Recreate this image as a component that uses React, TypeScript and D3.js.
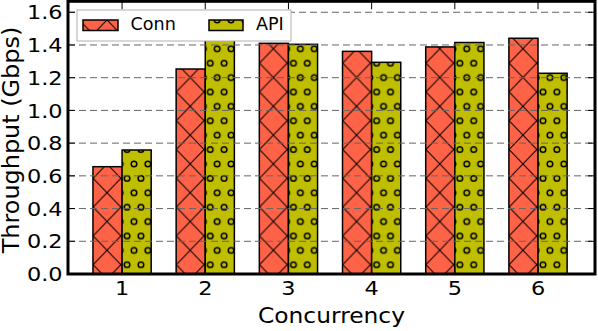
import React from 'react'
import * as d3 from 'd3'

const categories = [1, 2, 3, 4, 5, 6]
const connValues = [0.656, 1.253, 1.41, 1.361, 1.388, 1.441]
const apiValues = [0.758, 1.444, 1.404, 1.294, 1.415, 1.227]
const yTicks = [0, 0.2, 0.4, 0.6, 0.8, 1.0, 1.2, 1.4, 1.6]

const W = 598
const H = 331
const FONT = 'DejaVu Sans, sans-serif'
const CONN_COLOR = '#ff6347'
const API_COLOR = '#bfbf00'

export default function App() {
  const left = 68
  const right = 595
  const top = 1.3
  const bottom = 274

  const x = d3.scaleLinear().domain([0.35, 6.685]).range([left, right])
  const y = d3.scaleLinear().domain([0, 1.667]).range([bottom, top])
  const barW = x(0.35) - x(0)

  // hatch periods (px)
  const hx = 27.73
  const hy = 28.8

  const tickLen = 7
  // the original font renders a bit wider than DejaVu
  const tickStretch = 1.12

  return (
    <svg
      width={W}
      height={H}
      style={{ position: 'absolute', left: 0, top: 0, background: '#fff' }}
      fontFamily={FONT}
    >
      <defs>
        <pattern
          id="hatchX"
          patternUnits="userSpaceOnUse"
          width={hx}
          height={hy}
          patternTransform={`translate(${107 % hx},${192.7 % hy})`}
        >
          <rect width={hx} height={hy} fill={CONN_COLOR} />
          <line x1={0} y1={0} x2={hx} y2={hy} stroke="#000" strokeWidth={1} />
          <line x1={hx} y1={0} x2={0} y2={hy} stroke="#000" strokeWidth={1} />
        </pattern>
        <pattern
          id="hatchO"
          patternUnits="userSpaceOnUse"
          width={hx / 2}
          height={hy}
          patternTransform={`translate(${134 % (hx / 2)},${164 % hy})`}
        >
          <rect width={hx / 2} height={hy} fill={API_COLOR} />
          {[
            [0, 0],
            [hx / 2, 0],
            [0, hy],
            [hx / 2, hy],
            [hx / 4, hy / 2],
          ].map(([cx, cy], i) => (
            <circle key={i} cx={cx} cy={cy} r={2.8} fill="none" stroke="#000" strokeWidth={1.5} />
          ))}
        </pattern>
      </defs>

      {/* bars */}
      {categories.map((c, i) => (
        <g key={c}>
          <rect
            x={x(c) - barW}
            y={y(connValues[i])}
            width={barW}
            height={y(0) - y(connValues[i])}
            fill="url(#hatchX)"
            stroke="#000"
            strokeWidth={1.5}
          />
          <rect
            x={x(c)}
            y={y(apiValues[i])}
            width={barW}
            height={y(0) - y(apiValues[i])}
            fill="url(#hatchO)"
            stroke="#000"
            strokeWidth={1.5}
          />
        </g>
      ))}

      {/* grid over bars */}
      {yTicks.slice(1).map((t) => (
        <line
          key={t}
          x1={left}
          x2={right}
          y1={y(t)}
          y2={y(t)}
          stroke="#666"
          strokeWidth={1}
          strokeDasharray="7,4"
        />
      ))}

      {/* ticks, inward */}
      {yTicks.map((t) => (
        <g key={'yt' + t}>
          <line x1={left} x2={left + tickLen} y1={y(t)} y2={y(t)} stroke="#000" />
          <line x1={right - tickLen} x2={right} y1={y(t)} y2={y(t)} stroke="#000" />
          <text
            transform={`translate(62.5,${y(t)}) scale(${tickStretch},1)`}
            dy="0.36em"
            textAnchor="end"
            fontSize={20}
            fill="#000"
          >
            {d3.format('.1f')(t)}
          </text>
        </g>
      ))}
      {categories.map((c) => (
        <g key={'xt' + c}>
          <line x1={x(c)} x2={x(c)} y1={top} y2={top + tickLen + 1} stroke="#000" />
          <line x1={x(c)} x2={x(c)} y1={bottom - tickLen} y2={bottom} stroke="#000" />
          <text
            transform={`translate(${x(c)},295) scale(${tickStretch},1)`}
            textAnchor="middle"
            fontSize={20}
            fill="#000"
          >
            {c}
          </text>
        </g>
      ))}

      {/* frame */}
      <rect
        x={left}
        y={top}
        width={right - left}
        height={bottom - top}
        fill="none"
        stroke="#000"
        strokeWidth={3}
      />

      {/* axis labels */}
      <text
        transform={`translate(${(left + right) / 2},323) scale(1.08,1)`}
        textAnchor="middle"
        fontSize={21.6}
        fill="#000"
      >
        Concurrency
      </text>
      <text
        transform={`translate(18.8,140) rotate(-90) scale(1.04,1)`}
        textAnchor="middle"
        fontSize={23}
        fill="#000"
      >
        Throughput (Gbps)
      </text>

      {/* legend */}
      <g>
        <rect x={77} y={10} width={214} height={31} fill="#fff" stroke="#b0b0b0" strokeWidth={1} />
        <rect x={83} y={20} width={35} height={10.5} fill="url(#hatchX)" stroke="#000" strokeWidth={1.5} />
        <text transform="translate(130.5,30) scale(1.04,1)" fontSize={16.9} fill="#000">
          Conn
        </text>
        <rect x={209} y={20} width={34} height={10.5} fill="url(#hatchO)" stroke="#000" strokeWidth={1.5} />
        <text transform="translate(256,30) scale(1.04,1)" fontSize={16.9} fill="#000">
          API
        </text>
      </g>
    </svg>
  )
}
